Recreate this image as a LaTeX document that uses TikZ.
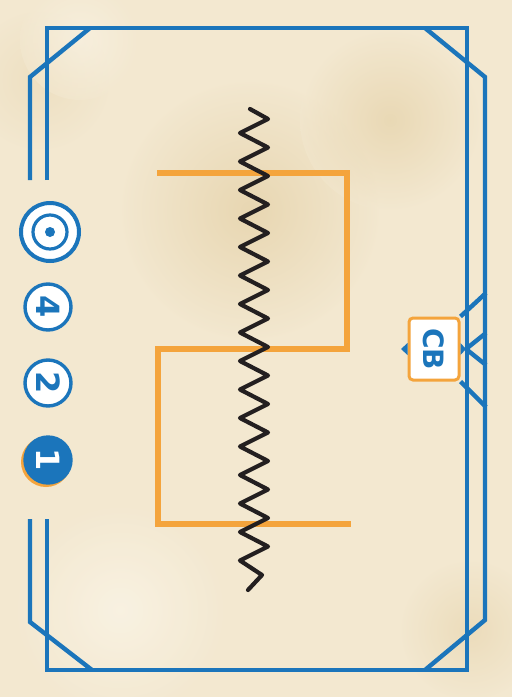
\documentclass[tikz,border=0pt]{standalone}
\usepackage{fontspec}
\newfontfamily\cardfont{DejaVu Sans}
\definecolor{parchment}{HTML}{F3E8D0}
\definecolor{stain}{HTML}{DEC694}
\definecolor{paperlight}{HTML}{FAF4E6}
\definecolor{frameblue}{HTML}{1B75BB}
\definecolor{cardorange}{HTML}{F4A43C}
\definecolor{springblack}{HTML}{231F20}
\tikzset{
  frame line/.style={frameblue, line width=2.2pt},
  bracket line/.style={cardorange, line width=2.6pt},
  spring line/.style={springblack, line width=2.1pt, line join=round, line cap=round},
  badge/.style={circle, draw=frameblue, line width=1.7pt, fill=white, minimum size=23pt,
    inner sep=0pt, text=frameblue, font=\cardfont\bfseries\fontsize{16}{16}\selectfont},
  tagbox/.style={draw=cardorange, line width=1.5pt, fill=white, rounded corners=2pt,
    minimum width=25pt, minimum height=31pt, inner sep=0pt, text=frameblue,
    font=\cardfont\bfseries\fontsize{14}{14}\selectfont},
}
\begin{document}
\begin{tikzpicture}[x=0.5pt, y=-0.5pt]
  % Paper background
  \useasboundingbox (0,0) rectangle (512,697);
  \fill[parchment] (0,0) rectangle (512,697);
  \shade[inner color=stain, outer color=parchment, opacity=0.5] (250,210) circle (130);
  \shade[inner color=stain, outer color=parchment, opacity=0.45] (390,120) circle (90);
  \shade[inner color=stain, outer color=parchment, opacity=0.35] (470,630) circle (70);
  \shade[inner color=stain, outer color=parchment, opacity=0.25] (40,80) circle (70);
  \shade[inner color=paperlight, outer color=parchment, opacity=0.8] (120,610) circle (110);
  \shade[inner color=paperlight, outer color=parchment, opacity=0.6] (80,40) circle (60);

  % Blue frame
  \draw[frame line] (47,180) |- (467,28) |- (47,670) -- (47,519);
  \draw[frame line] (30,180) -- (30,77) -- (90,28);
  \draw[frame line] (425,28) -- (485,77) -- (485,620) -- (425,670);
  \draw[frame line] (30,519) -- (30,622) -- (92,670);

  % Orange brackets
  \draw[bracket line] (157,173) -- (347,173) -- (347,349) -- (158,349) -- (158,524) -- (351,524);

  % Spring
  \draw[spring line] (250,109)
    \foreach \i in {0,...,15} { -- (268,{119+28.5*\i}) -- (240,{133+28.5*\i}) }
    -- (262,575) -- (248,590);

  % Card tag with connectors
  \node[tagbox] (cbtag) at (434,349) {\rotatebox{-90}{CB}};
  \coordinate (cbtip) at (466,349);
  \fill[frameblue] (cbtag.west) ++(0,-6) -- ++(0,12) -- (401,349) -- cycle;
  \fill[frameblue] (cbtag.east) ++(0,-6) -- ++(0,12) -- (cbtip) -- cycle;
  \draw[frame line] (cbtag.north east) -- (486,293);
  \draw[frame line] (cbtip) -- (486,333);
  \draw[frame line] (cbtip) -- (486,365);
  \draw[frame line] (cbtag.south east) -- (486,407);

  % Range and cost badges
  \node[circle, draw=frameblue, line width=2pt, fill=white, minimum size=29pt, inner sep=0pt] (target) at (50,232) {};
  \draw[frameblue, line width=1.6pt] (target.center) circle (17);
  \fill[frameblue] (target.center) circle (5);
  \node[badge] (four) at (48,307) {\rotatebox{-90}{4}};
  \node[badge] (two) at (48,383) {\rotatebox{-90}{2}};
  \fill[cardorange] (46,462) circle (25);
  \node[badge, fill=frameblue, text=white] (one) at (48,460) {\rotatebox{-90}{1}};
\end{tikzpicture}
\end{document}
